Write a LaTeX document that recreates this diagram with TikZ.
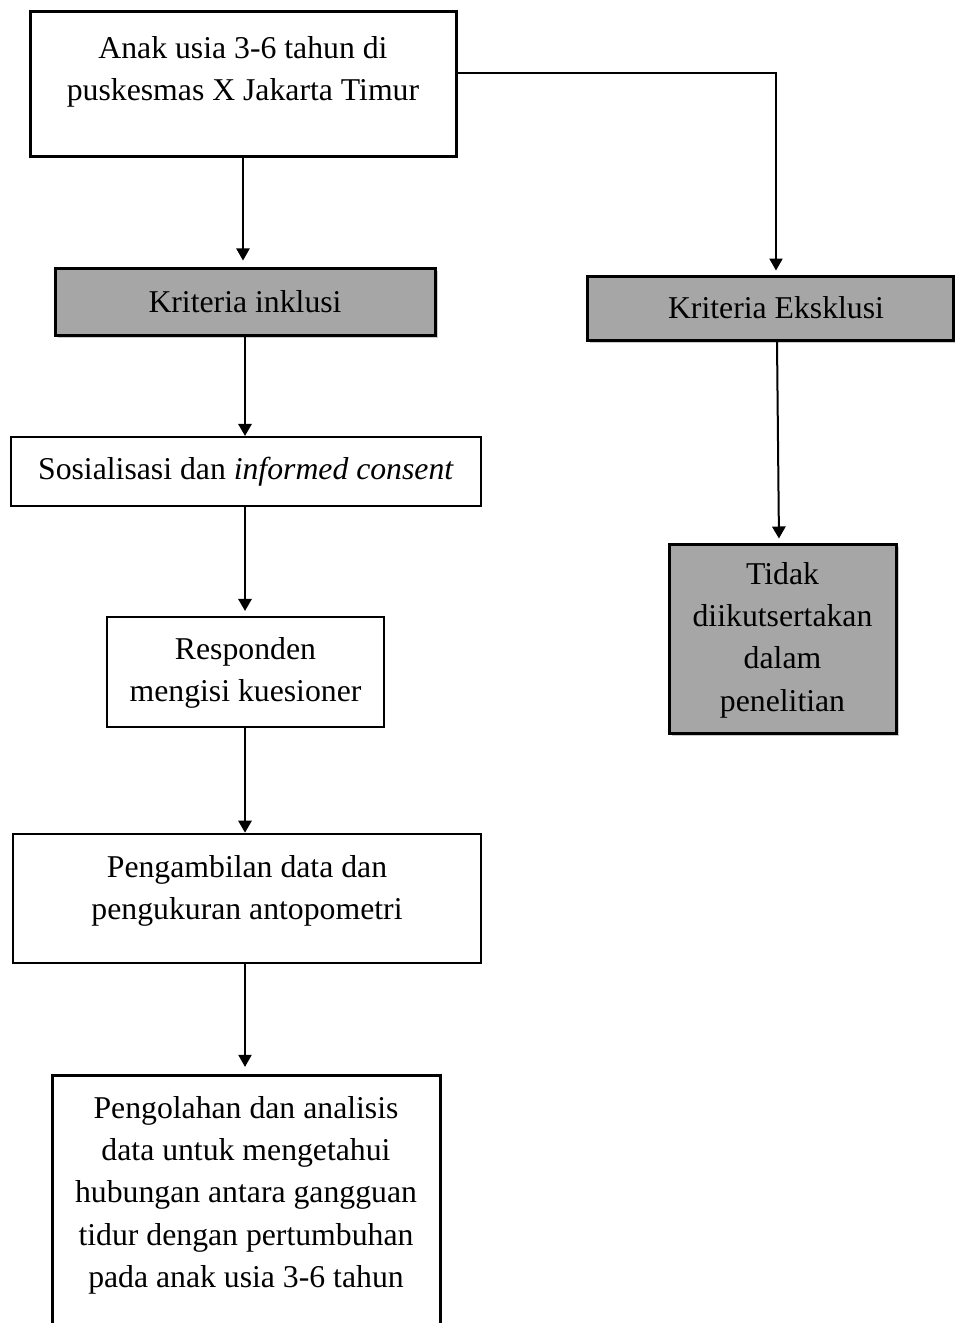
\documentclass[tikz,border=0pt]{standalone}
\usepackage{fontspec}
\setmainfont{Liberation Serif}
\usetikzlibrary{arrows.meta,shadows,calc}
\definecolor{boxgray}{HTML}{A6A6A6}
\begin{document}
\begin{tikzpicture}[x=0.75pt,y=-0.75pt,
  font=\fontsize{23.8}{31.7}\selectfont,
  box/.style={draw, line width=2.25pt, inner sep=0pt},
  thinbox/.style={draw, line width=1.6pt, inner sep=0pt},
  gbox/.style={box, fill=boxgray, drop shadow={shadow xshift=2pt, shadow yshift=-2pt, opacity=0.4}},
  txt/.style={align=center, inner sep=0pt, anchor=north},
  conn/.style={-{Triangle[width=10pt,length=9pt]}, line width=0.8pt},
  connb/.style={-{Triangle[width=10pt,length=9pt]}, line width=1.5pt}]
\useasboundingbox (0,0) rectangle (955,1323);
\clip (0,0) rectangle (955,1323);

% boxes
\node[box, minimum width=319.5pt, minimum height=108.75pt] (b1) at (243,84.5) {};
\node[txt] (t1) at (243,36) {Anak usia 3-6 tahun di\\puskesmas X Jakarta Timur};

\node[gbox, minimum width=285pt, minimum height=50.25pt] (ki) at (245,301.5) {\raisebox{-2.2pt}{Kriteria inklusi}};

\node[thinbox, minimum width=352.5pt, minimum height=51.75pt] (so) at (246,471.5) {\raisebox{-1pt}{Sosialisasi dan \textit{informed consent}}};

\node[thinbox, minimum width=207.75pt, minimum height=82.5pt] (re) at (245.5,672) {};
\node[txt] (t2) at (245.5,637) {Responden\\mengisi kuesioner};

\node[draw, line width=2pt, inner sep=0pt, minimum width=351pt, minimum height=96.75pt] (pe) at (247,898.5) {};
\node[txt] (t3) at (247,855) {Pengambilan data dan\\pengukuran antopometri};

\node[box, minimum width=291pt, minimum height=202.5pt] (la) at (246,1210) {};
\node[txt] (t4) at (246,1096) {Pengolahan dan analisis\\data untuk mengetahui\\hubungan antara gangguan\\tidur dengan pertumbuhan\\pada anak usia 3-6 tahun};

\node[gbox, minimum width=274.5pt, minimum height=48pt] (ke) at (770,308) {\hspace*{9pt}\raisebox{1.5pt}{Kriteria Eksklusi}};

\node[gbox, minimum width=170.25pt, minimum height=141.75pt] (td) at (782.5,638.5) {};
\node[txt] (t5) at (782.5,562) {Tidak\\diikutsertakan\\dalam\\penelitian};

% connectors
\coordinate (col) at (245,0);
\coordinate (k1) at (776,73);
\draw[conn, shorten >=4.5pt] (b1.south) -- (ki.north -| b1.south);
\draw[connb] (ki.south -| col) -- (so.north -| col);
\draw[connb, shorten >=3.75pt] (so.south -| col) -- (re.north -| col);
\draw[connb] (re.south -| col) -- (pe.north -| col);
\draw[conn, shorten >=5pt] (pe.south -| col) -- (la.north -| col);
\draw[conn, shorten >=3pt] (b1.east |- k1) -- (k1) -- (ke.north -| k1);
\draw[connb, shorten >=3pt] ($(ke.south)+(7,0)$) -- ($(td.north)+(-3.5,0)$);
\end{tikzpicture}
\end{document}
